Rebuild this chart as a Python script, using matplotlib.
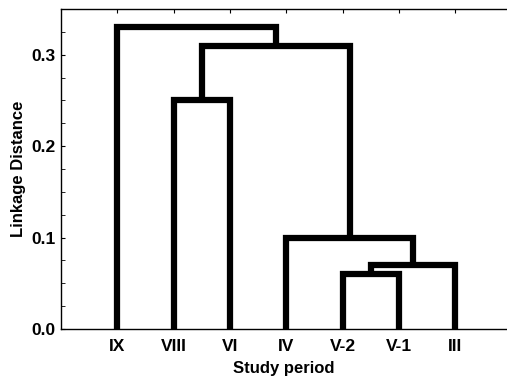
import matplotlib.pyplot as plt
from matplotlib.ticker import MultipleLocator

plt.rcParams['font.family'] = ['Liberation Sans', 'DejaVu Sans']
plt.rcParams['font.weight'] = 'bold'

# leaves in display order, then merges as (left node, right node, linkage distance)
leaves = ["IX", "VIII", "VI", "IV", "V-2", "V-1", "III"]
merge_left = [4, 7, 3, 1, 10, 0]
merge_right = [5, 6, 8, 2, 9, 11]
merge_height = [0.06, 0.07, 0.10, 0.25, 0.31, 0.33]

fig = plt.figure(figsize=(5.07, 3.78), dpi=100)
ax = fig.add_axes([61 / 507, 1 - 329 / 378, 1 - 61 / 507, 320 / 378])

xpos = {i: i + 1 for i in range(len(leaves))}
ypos = {i: 0.0 for i in range(len(leaves))}
for k, (l, r, h) in enumerate(zip(merge_left, merge_right, merge_height)):
    node = len(leaves) + k
    ax.plot([xpos[l], xpos[l], xpos[r], xpos[r]], [ypos[l], h, h, ypos[r]],
            color='black', lw=4.5, solid_joinstyle='miter', solid_capstyle='butt')
    xpos[node] = (xpos[l] + xpos[r]) / 2
    ypos[node] = h

ax.set_xlim(0, 7.92)
ax.set_ylim(0, 0.35)
ax.set_xticks(range(1, len(leaves) + 1))
ax.set_xticklabels(leaves)
ax.set_yticks([0.0, 0.1, 0.2, 0.3])
ax.set_yticklabels(['0.0', '0.1', '0.2', '0.3'])
ax.yaxis.set_minor_locator(MultipleLocator(0.025))
ax.tick_params(axis='x', which='both', direction='in', top=True, bottom=False,
               length=3, labelsize=12.5, pad=7)
ax.tick_params(axis='y', which='both', direction='in', length=3, labelsize=12.5, pad=4)
ax.spines['right'].set_visible(False)
for s in ['left', 'top', 'bottom']:
    ax.spines[s].set_linewidth(1.0)

ax.set_xlabel('Study period', fontsize=12, fontweight='bold', labelpad=5)
ax.set_ylabel('Linkage Distance', fontsize=12, fontweight='bold', labelpad=4)

fig.savefig('out.png', dpi=100)
